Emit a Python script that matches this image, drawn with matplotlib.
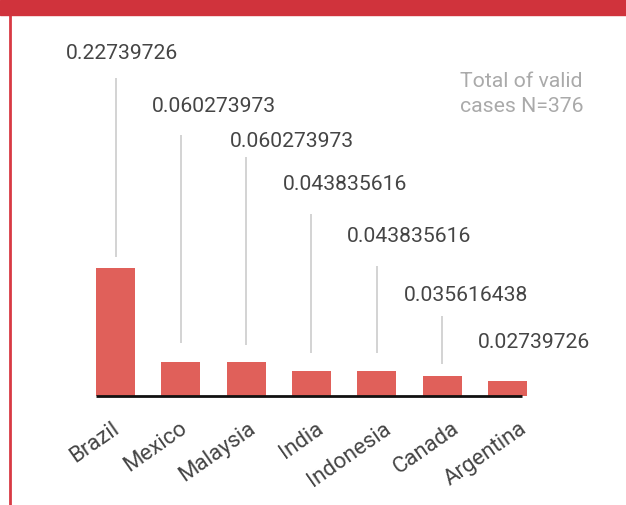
import matplotlib.pyplot as plt
from matplotlib.patches import Rectangle
from matplotlib.lines import Line2D

plt.rcParams['font.family'] = ['Roboto', 'DejaVu Sans']

# data
countries = ["Brazil", "Mexico", "Malaysia", "India", "Indonesia", "Canada", "Argentina"]
shares = [0.22739726, 0.060273973, 0.060273973, 0.043835616, 0.043835616, 0.035616438, 0.02739726]
note = "Total of valid\ncases N=376"

# label layout (pixels): shift of value label right of bar, height above bar top
lab_dx = [6.5, 33, 46, 33.5, 32.5, 23.5, 26.5]
lab_dy = [214, 256, 221, 187, 135, 80, 38]
# leader line gaps (pixels): below label centre, above bar top
gap_top = [24, 29, 16, 30, 30, 20]
gap_bot = [11, 19, 17, 18, 18, 12]

W, H = 626, 505
fig = plt.figure(figsize=(W / 100, H / 100), dpi=100)
ax = fig.add_axes([0, 0, 1, 1])

# pixel mapping: bar i centred at 115.5 + 65.33*i, baseline at y=396 px, 564 px per unit
xpx = 65.33
ypx = 564.0
x0 = 115.5
base = 396.0
ax.set_xlim(-x0 / xpx, (W - x0) / xpx)
ax.set_ylim(-(H - base) / ypx, base / ypx)
ax.axis('off')

red = '#e0605a'
grey_text = '#454545'
xs = list(range(len(countries)))
ax.bar(xs, shares, width=0.6, color=red, zorder=2)
ax.hlines(0, -0.3, (522 - x0) / xpx, color='#111111', linewidth=2, zorder=3)

for i, (c, v) in enumerate(zip(countries, shares)):
    # value label and leader line
    ly = v + lab_dy[i] / ypx
    ax.text(i + lab_dx[i] / xpx, ly, str(v), ha='center', va='center',
            fontsize=15.2, color=grey_text)
    if i < len(gap_top):
        ax.vlines(i, v + gap_bot[i] / ypx, ly - gap_top[i] / ypx,
                  color='#cccccc', linewidth=1.2)
    # category label
    ax.text(i + (-4 + 2.6 * i) / xpx, -22 / ypx, c, rotation=35, rotation_mode='anchor',
            ha='right', va='top', fontsize=16, color=grey_text)

fig.text(460 / W, 1 - 72 / H, note, ha='left', va='top', fontsize=15.3,
         color='#aaaaaa', linespacing=1.38)

# red header band and left rule
fig.patches.append(Rectangle((0, 1 - 15 / H), 1, 15 / H, transform=fig.transFigure,
                             color='#d0333c', zorder=5))
fig.lines.append(Line2D([9.5 / W, 9.5 / W], [0, 1 - 15 / H], transform=fig.transFigure,
                        color='#d83a44', linewidth=2))

fig.savefig('out.png', dpi=100)
